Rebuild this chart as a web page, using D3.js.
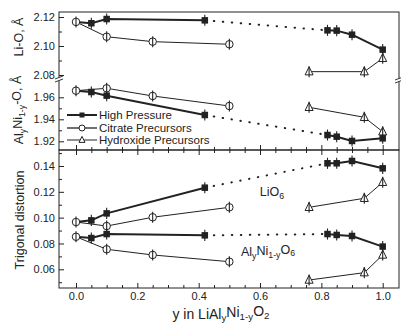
<!DOCTYPE html>
<html><head><meta charset="utf-8">
<script src="https://cdn.jsdelivr.net/npm/d3@7"></script>
<style>body{margin:0;background:#fff}svg{display:block;font-family:"Liberation Sans",Arial,sans-serif}</style>
</head><body><svg id="c" width="401" height="324"></svg>
<script>
// ---- data ----
const xHP  = [0, 0.05, 0.1, 0.42, 0.82, 0.85, 0.9, 1.0];
const xCit = [0, 0.1, 0.25, 0.5];
const xHyd = [0.76, 0.94, 1.0];

const liO_HP  = [2.1166, 2.1157, 2.1186, 2.1177, 2.1108, 2.1106, 2.1078, 2.0975];
const liO_Cit = [2.1166, 2.1064, 2.1030, 2.1012];
const liO_Hyd = [2.0823, 2.0823, 2.0915];

const mO_HP  = [1.9660, 1.9648, 1.9615, 1.9439, 1.9257, 1.9242, 1.9203, 1.9227];
const mO_Cit = [1.9660, 1.9682, 1.9612, 1.9521];
const mO_Hyd = [1.9509, 1.9418, 1.9287];

const liO6_HP  = [0.0966, 0.0979, 0.1033, 0.1232, 0.1421, 0.1421, 0.1439, 0.1382];
const liO6_Cit = [0.0966, 0.0935, 0.1003, 0.1080];
const liO6_Hyd = [0.1080, 0.1150, 0.1274];

const mO6_HP  = [0.0852, 0.0842, 0.0873, 0.0863, 0.0873, 0.0866, 0.0858, 0.0776];
const mO6_Cit = [0.0852, 0.0755, 0.0711, 0.0659];
const mO6_Hyd = [0.0517, 0.0574, 0.0711];

const errLiO = 0.0038, errMO = 0.005, errTri = 0.0043;

const xTicks = [0, 0.2, 0.4, 0.6, 0.8, 1.0];
const liOTicks = [2.08, 2.10, 2.12];
const mOTicks = [1.92, 1.94, 1.96];
const triTicks = [0.06, 0.08, 0.10, 0.12, 0.14];
const legendNames = ["High Pressure", "Citrate Precursors", "Hydroxide Precursors"];

// ---- layout ----
const L = 59, R = 399, T = 12, M = 150, B = 288;
const svg = d3.select("#c");
const ink = "#222";

const x = d3.scaleLinear([0, 1], [76, 382.7]);
const yLiO = d3.scaleLinear([2.08, 2.12], [75, 17]);
const yMO = d3.scaleLinear([1.92, 1.96], [141.3, 97.3]);
const yTri = d3.scaleLinear([0.06, 0.14], [269.3, 166]);

// frames
svg.append("rect").attr("x", L).attr("y", T).attr("width", R - L).attr("height", M - T)
  .attr("fill", "none").attr("stroke", ink).attr("stroke-width", 1);
svg.append("rect").attr("x", L).attr("y", M).attr("width", R - L).attr("height", B - M)
  .attr("fill", "none").attr("stroke", ink).attr("stroke-width", 1);

function styleAxis(g) {
  g.select(".domain").remove();
  g.selectAll("line").attr("stroke", ink);
  g.selectAll("text").attr("fill", ink).style("font-size", "11px").style("font-family", "Liberation Sans, Arial, sans-serif");
}
const minorX = d3.range(0, 1.0001, 0.05).filter(v => Math.abs(v * 5 - Math.round(v * 5)) > 1e-6);

// bottom x axis
svg.append("g").attr("transform", `translate(0,${B})`)
  .call(d3.axisBottom(x).tickValues(xTicks).tickFormat(d3.format(".1f")).tickSizeInner(-5).tickSizeOuter(0).tickPadding(4))
  .call(styleAxis);
svg.append("g").attr("transform", `translate(0,${B})`)
  .call(d3.axisBottom(x).tickValues(minorX).tickFormat("").tickSizeInner(-3).tickSizeOuter(0)).call(styleAxis);
// divider ticks (both sides)
[[-5, -3], [5, 3]].forEach(([a, b]) => {
  svg.append("g").attr("transform", `translate(0,${M})`)
    .call(d3.axisBottom(x).tickValues(xTicks).tickFormat("").tickSizeInner(a).tickSizeOuter(0)).call(styleAxis);
  svg.append("g").attr("transform", `translate(0,${M})`)
    .call(d3.axisBottom(x).tickValues(minorX).tickFormat("").tickSizeInner(b).tickSizeOuter(0)).call(styleAxis);
});

function leftAxis(scale, major, minor, fmt) {
  svg.append("g").attr("transform", `translate(${L},0)`)
    .call(d3.axisLeft(scale).tickValues(major).tickFormat(d3.format(fmt)).tickSizeInner(-5).tickSizeOuter(0).tickPadding(4))
    .call(styleAxis);
  svg.append("g").attr("transform", `translate(${L},0)`)
    .call(d3.axisLeft(scale).tickValues(minor).tickFormat("").tickSizeInner(-3).tickSizeOuter(0)).call(styleAxis);
}
leftAxis(yLiO, liOTicks, [2.09, 2.11], ".2f");
leftAxis(yMO, mOTicks, [1.93, 1.95], ".2f");
leftAxis(yTri, triTicks, [0.05, 0.07, 0.09, 0.11, 0.13, 0.15], ".2f");

// axis breaks
[L, R].forEach(ax => {
  const yb = ax === L ? 79 : 80;
  svg.append("rect").attr("x", ax - 4).attr("y", yb - 1.5).attr("width", 8).attr("height", 3).attr("fill", "#fff");
  [-1.5, 1.5].forEach(o => svg.append("line")
    .attr("x1", ax - 4).attr("y1", yb + o + 1.5).attr("x2", ax + 4).attr("y2", yb + o - 1.5)
    .attr("stroke", ink).attr("stroke-width", 0.9));
});

// ---- series drawing ----
function pts(xs, ys) { return xs.map((v, i) => [v, ys[i]]); }
function drawLine(data, y, width, dash) {
  svg.append("path").datum(data)
    .attr("d", d3.line().x(d => x(d[0])).y(d => y(d[1])))
    .attr("fill", "none").attr("stroke", ink).attr("stroke-width", width)
    .attr("stroke-dasharray", dash || null).attr("stroke-linecap", dash ? "round" : "butt");
}
function marker(g, type, cx, cy, s) {
  if (type === "sq") g.append("rect").attr("x", cx - s / 2).attr("y", cy - s / 2).attr("width", s).attr("height", s).attr("fill", ink);
  else if (type === "ci") g.append("circle").attr("cx", cx).attr("cy", cy).attr("r", s / 2).attr("fill", "#fff").attr("stroke", ink).attr("stroke-width", 1);
  else g.append("path").attr("d", `M${cx},${cy - s * 0.6}L${cx + s / 2},${cy + s * 0.4}L${cx - s / 2},${cy + s * 0.4}Z`).attr("fill", "#fff").attr("stroke", ink).attr("stroke-width", 1);
}
function drawMarks(data, y, type, err, s) {
  const g = svg.append("g");
  data.forEach(d => marker(g, type, x(d[0]), y(d[1]), s));
  data.forEach(d => {
    g.append("line").attr("x1", x(d[0])).attr("x2", x(d[0])).attr("y1", y(d[1] - err)).attr("y2", y(d[1] + err))
      .attr("stroke", ink).attr("stroke-width", 1.1);
  });
}
function drawSet(hp, cit, hyd, y, err) {
  const P = pts(xHP, hp);
  drawLine(P.slice(0, 4), y, 2);
  drawLine(P.slice(3, 5), y, 2, "0.5,8.5");
  drawLine(P.slice(4), y, 2);
  drawLine(pts(xCit, cit), y, 1);
  drawLine(pts(xHyd, hyd), y, 1);
  drawMarks(P.slice(1), y, "sq", err, 6.5);
  drawMarks(pts(xCit, cit), y, "ci", err, 7.5);
  drawMarks(pts(xHyd, hyd), y, "tr", err, 8);
}
drawSet(liO_HP, liO_Cit, liO_Hyd, yLiO, errLiO);
drawSet(mO_HP, mO_Cit, mO_Hyd, yMO, errMO);
drawSet(liO6_HP, liO6_Cit, liO6_Hyd, yTri, errTri);
drawSet(mO6_HP, mO6_Cit, mO6_Hyd, yTri, errTri);

// ---- legend ----
const legTypes = ["sq", "ci", "tr"], legW = [2, 1.3, 1], legY = [115, 128, 140];
legendNames.forEach((n, i) => {
  const g = svg.append("g");
  g.append("line").attr("x1", 67).attr("x2", 97).attr("y1", legY[i]).attr("y2", legY[i]).attr("stroke", ink).attr("stroke-width", legW[i]);
  marker(g, legTypes[i], 82, legY[i], i === 0 ? 5 : 6);
  g.append("text").attr("x", 99).attr("y", legY[i]).attr("dy", "0.35em").attr("fill", ink)
    .style("font-size", "11.5px").text(n);
});

// ---- titles ----
function addParts(t, parts, size) {
  parts.forEach(p => {
    const ts = t.append("tspan").text(p[0]);
    if (p[1] === "sub") ts.attr("dy", "0.3em").style("font-size", (size * 0.7) + "px");
    if (p[1] === "back") ts.attr("dy", "-0.3em");
  });
}
function rotTitle(cx, cy, parts, size) {
  const t = svg.append("text").attr("transform", `translate(${cx},${cy}) rotate(-90)`)
    .attr("text-anchor", "middle").attr("fill", ink).style("font-size", size + "px");
  addParts(t, parts, size);
}
rotTitle(23, 37, [["Li-O, Å"]], 12.5);
rotTitle(23, 110, [["Al"], ["y", "sub"], ["Ni", "back"], ["1-y", "sub"], ["-O, Å", "back"]], 12.5);
rotTitle(24, 220, [["Trigonal distortion"]], 12.5);

function subText(cx, cy, parts, size) {
  const t = svg.append("text").attr("x", cx).attr("y", cy).attr("text-anchor", "middle").attr("fill", ink).style("font-size", size + "px");
  addParts(t, parts, size);
}
subText(221, 318.5, [["y in LiAl"], ["y", "sub"], ["Ni", "back"], ["1-y", "sub"], ["O", "back"], ["2", "sub"]], 14);
subText(272, 196, [["LiO"], ["6", "sub"]], 12.5);
subText(268, 256, [["Al"], ["y", "sub"], ["Ni", "back"], ["1-y", "sub"], ["O", "back"], ["6", "sub"]], 12.5);
</script></body></html>
